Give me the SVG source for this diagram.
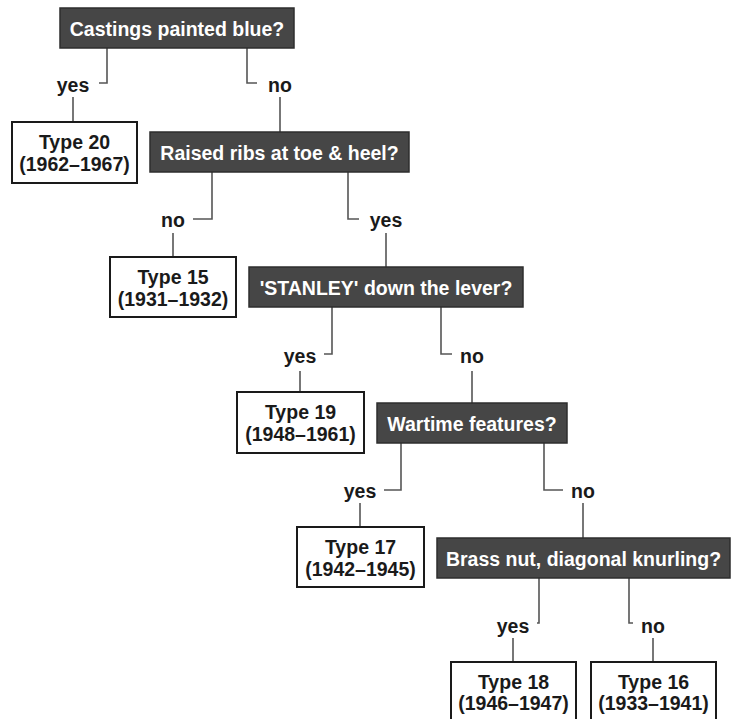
<svg xmlns="http://www.w3.org/2000/svg" width="735" height="719" viewBox="0 0 735 719">
<style>
text{font-family:"Liberation Sans",Arial,Helvetica,sans-serif;font-weight:bold;font-size:19.5px;letter-spacing:0px;text-anchor:middle}
.q rect{fill:#464646;stroke:#2e2e2e;stroke-width:1.5}
.q text{fill:#ffffff}
.a rect{fill:#ffffff;stroke:#1a1a1a;stroke-width:2}
.a text{fill:#1a1a1a}
.lbl{fill:#1a1a1a}
#connectors path{fill:none;stroke:#555555;stroke-width:1.6}
</style>
<rect width="735" height="719" fill="#ffffff"/>
<g id="connectors">
<path d="M107,48 V83 H99"/><path d="M73,97 V122"/>
<path d="M247,48 V83 H257"/><path d="M280,97 V132"/>
<path d="M212,172 V219 H193"/><path d="M173,233 V257"/>
<path d="M348,172 V219 H359"/><path d="M386,233 V267"/>
<path d="M332,307 V354 H324"/><path d="M300,371 V392"/>
<path d="M441,307 V354 H452"/><path d="M472,371 V403"/>
<path d="M401,443 V490 H384"/><path d="M360,503 V527"/>
<path d="M544,443 V490 H563"/><path d="M583,503 V538"/>
<path d="M539,578 V623 H537"/><path d="M513,638 V662"/>
<path d="M629,578 V623 H633"/><path d="M653,638 V662"/>
<text class="lbl" x="73" y="92">yes</text>
<text class="lbl" x="280" y="92">no</text>
<text class="lbl" x="173" y="227">no</text>
<text class="lbl" x="386" y="227">yes</text>
<text class="lbl" x="300" y="363">yes</text>
<text class="lbl" x="472" y="363">no</text>
<text class="lbl" x="360" y="498">yes</text>
<text class="lbl" x="583" y="498">no</text>
<text class="lbl" x="513" y="633">yes</text>
<text class="lbl" x="653" y="633">no</text>
</g>
<g id="q1" class="q"><rect x="60" y="8" width="234" height="40"/><text x="177" y="35.5">Castings painted blue?</text></g>
<g id="q2" class="q"><rect x="150" y="132" width="259" height="40"/><text x="279.5" y="159.5">Raised ribs at toe &amp; heel?</text></g>
<g id="q3" class="q"><rect x="249" y="267" width="274" height="40"/><text x="386" y="294.5">'STANLEY' down the lever?</text></g>
<g id="q4" class="q"><rect x="377" y="403" width="190" height="40"/><text x="472" y="430.5">Wartime features?</text></g>
<g id="q5" class="q"><rect x="437" y="538" width="293" height="40"/><text x="583.5" y="565.5">Brass nut, diagonal knurling?</text></g>
<g id="t20" class="a"><rect x="12" y="122" width="125" height="61"/><text x="74.5" y="149">Type 20</text><text x="74.5" y="171">(1962–1967)</text></g>
<g id="t15" class="a"><rect x="110" y="257" width="126" height="60"/><text x="173" y="284">Type 15</text><text x="173" y="306">(1931–1932)</text></g>
<g id="t19" class="a"><rect x="237" y="392" width="127" height="61"/><text x="300.5" y="419">Type 19</text><text x="300.5" y="441">(1948–1961)</text></g>
<g id="t17" class="a"><rect x="297" y="527" width="127" height="60"/><text x="360.5" y="554">Type 17</text><text x="360.5" y="576">(1942–1945)</text></g>
<g id="t18" class="a"><rect x="451" y="662" width="125" height="60"/><text x="513.5" y="689">Type 18</text><text x="513.5" y="710">(1946–1947)</text></g>
<g id="t16" class="a"><rect x="591" y="662" width="125" height="60"/><text x="653.5" y="689">Type 16</text><text x="653.5" y="710">(1933–1941)</text></g>
</svg>
